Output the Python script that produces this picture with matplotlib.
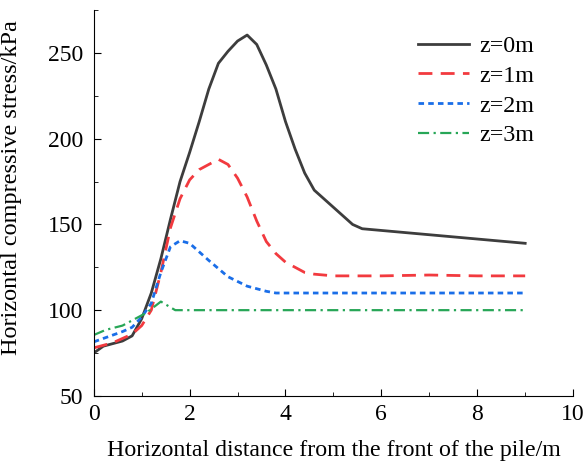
import matplotlib
matplotlib.use("Agg")
import matplotlib.pyplot as plt
from matplotlib.ticker import MultipleLocator

plt.rcParams['font.family'] = ['Liberation Serif', 'DejaVu Serif']

# z = 0 m
x0 = [0, 0.2, 0.6, 0.8, 1.0, 1.2, 1.4, 1.6, 1.8, 2.0, 2.2, 2.4, 2.6, 2.8, 3.0, 3.2,
      3.4, 3.6, 3.8, 4.0, 4.2, 4.4, 4.6, 5.0, 5.4, 5.6, 9.0]
y0 = [75, 79, 82, 85, 95, 110, 130, 153, 175, 192, 210, 229, 244, 251, 257, 260.5,
      255, 243, 229, 210, 194, 180, 170, 160, 150, 147.5, 139]
# z = 1 m
x1 = [0, 0.4, 0.8, 1.0, 1.2, 1.4, 1.6, 1.8, 2.0, 2.2, 2.6, 2.8, 3.0, 3.2, 3.4, 3.6,
      3.8, 4.0, 4.2, 4.4, 4.6, 5.0, 6.0, 7.0, 8.0, 9.0]
y1 = [78, 81, 86, 91, 100, 122, 148, 165, 176, 182, 188, 185, 177, 166, 152, 140,
      133, 128, 125, 122, 121, 120, 120, 120.5, 120, 120]
# z = 2 m
x2 = [0, 0.6, 0.8, 1.0, 1.2, 1.4, 1.6, 1.8, 2.0, 2.4, 2.8, 3.2, 3.6, 3.8, 9.0]
y2 = [81.5, 87.5, 90, 96, 104, 122, 137, 140.5, 139, 129, 119.5, 114, 111, 110, 110]
# z = 3 m
x3 = [0, 0.25, 0.6, 0.8, 1.1, 1.4, 1.7, 9.0]
y3 = [85.5, 88.5, 91, 94, 98.5, 105, 100, 100]

fig = plt.figure(figsize=(5.86, 4.63), dpi=100)
ax = fig.add_axes([0.16, 0.145, 0.818, 0.833])

ax.plot(x0, y0, color='#3d3d3d', lw=2.0, label='z=0m')
ax.plot(x1, y1, color='#f23a3f', lw=2.0, dashes=(5, 3), label='z=1m')
ax.plot(x2, y2, color='#1a6ee8', lw=2.0, dashes=(2, 1.5), label='z=2m')
ax.plot(x3, y3, color='#27a657', lw=1.6, dashes=(5, 2, 1, 2), label='z=3m')

ax.set_xlim(0, 10)
ax.set_ylim(50, 275)
ax.xaxis.set_major_locator(MultipleLocator(2))
ax.xaxis.set_minor_locator(MultipleLocator(1))
ax.yaxis.set_major_locator(MultipleLocator(50))
ax.yaxis.set_minor_locator(MultipleLocator(25))
ax.tick_params(which='both', direction='in', labelsize=17)
ax.tick_params(which='major', length=5)
ax.tick_params(which='minor', length=3)
ax.tick_params(axis='y', which='major', pad=7.5)
ax.tick_params(axis='x', which='major', pad=6)
ax.spines['top'].set_visible(False)
ax.spines['right'].set_visible(False)

ax.set_xlabel('Horizontal distance from the front of the pile/m', fontsize=17.2)
ax.set_ylabel('Horizontal compressive stress/kPa', fontsize=17.5)
ax.xaxis.set_label_coords(0.5, -0.115)
ax.yaxis.set_label_coords(-0.15, 0.54)

ax.legend(loc='upper left', frameon=False, fontsize=17.3, handlelength=2.1,
          handletextpad=0.45, labelspacing=0.33, borderaxespad=0,
          bbox_to_anchor=(0.657, 0.96))

fig.savefig('out.png', dpi=100)
